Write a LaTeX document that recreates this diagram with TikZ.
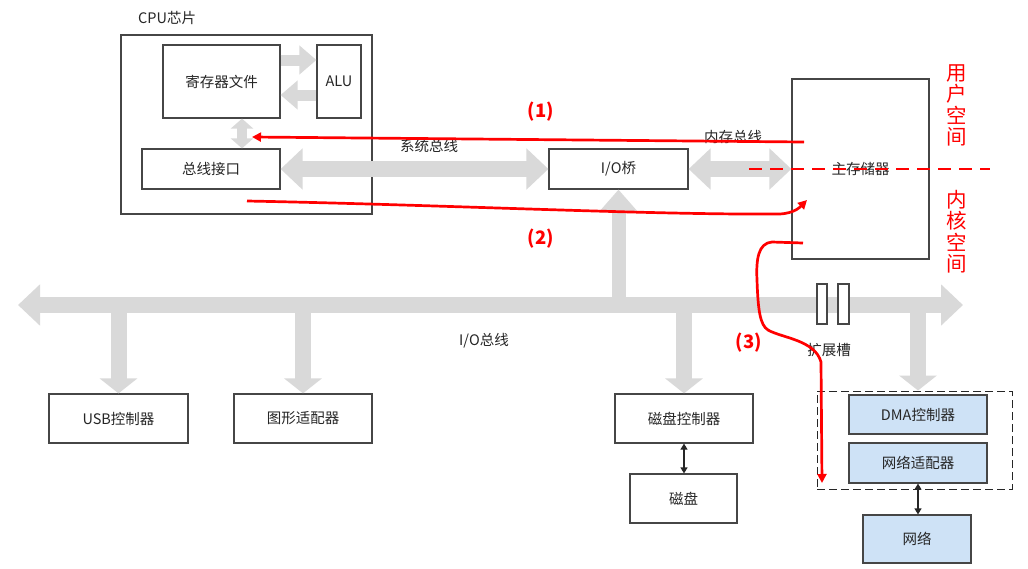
\documentclass[tikz,border=0pt]{standalone}
\usepackage{fontspec}
\setmainfont{Noto Sans CJK SC}
\newfontfamily\redbold{Noto Sans CJK SC}
\usetikzlibrary{arrows.meta}
\definecolor{busgray}{RGB}{217,217,217}
\definecolor{boxline}{RGB}{70,70,70}
\definecolor{txt}{RGB}{38,38,38}
\definecolor{lblue}{RGB}{206,226,246}
\definecolor{myred}{RGB}{255,0,0}
\tikzset{
  box/.style={draw=boxline, line width=1.2pt, fill=white, inner sep=0pt, text=txt, anchor=center},
  bluebox/.style={box, fill=lblue},
  lbl/.style={text=txt, inner sep=0pt},
  bigbus/.style={draw=busgray, line width=16pt, {Triangle[length=22pt,width=40pt]}-{Triangle[length=22pt,width=40pt]}},
  branch/.style={draw=busgray, line width=16pt, -{Triangle[length=15pt,width=37pt]}},
  upbranch/.style={draw=busgray, line width=14pt, -{Triangle[length=22pt,width=37pt]}},
  cpuarrow/.style={draw=busgray, line width=11pt, -{Triangle[length=17pt,width=28pt]}},
  cpuvert/.style={draw=busgray, line width=10pt, {Triangle[length=10pt,width=22pt]}-{Triangle[length=10pt,width=22pt]}},
  thinarrow/.style={draw=txt, line width=1.2pt, {Triangle[length=6pt,width=7pt]}-{Triangle[length=6pt,width=7pt]}},
  redline/.style={draw=myred, line width=2.7pt, -{Triangle[length=9pt,width=9pt]}},
  redlabel/.style={text=myred, font=\redbold\bfseries\fontsize{18.5}{20}\selectfont, inner sep=0pt},
  redvert/.style={text=myred, font=\fontsize{20.5}{21.5}\selectfont, align=center, inner sep=0pt},
}
\begin{document}
\begin{tikzpicture}[x=1pt, y=-1pt, font=\fontsize{14.5}{17}\selectfont]
\useasboundingbox[fill=white] (0,0) rectangle (1028,568);

% CPU chip
\node[box, minimum width=251pt, minimum height=179pt] (cpu) at (246.5,124.5) {};
\node[lbl, anchor=west] (cpulbl) at (138,18) {CPU芯片};
\node[box, minimum width=117pt, minimum height=73pt] (reg) at (221.5,81.5) {寄存器文件};
\node[box, minimum width=44pt, minimum height=73pt] (alu) at (339,81.5) {ALU};
\node[box, minimum width=138pt, minimum height=40pt] (bif) at (211,169) {总线接口};
\coordinate (vx) at (242,0);
\draw[cpuarrow] ([yshift=21.5pt]reg.east) -- ([yshift=21.5pt]alu.west);
\draw[cpuarrow] ([yshift=-13.5pt]alu.west) -- ([yshift=-13.5pt]reg.east);
\draw[cpuvert] (reg.south -| vx) -- (bif.north -| vx);

% bridge and memory
\node[box, minimum width=139pt, minimum height=40pt] (bridge) at (618.5,169) {I/O桥};
\node[box, minimum width=137pt, minimum height=180pt] (mem) at (860.5,169) {主存储器};
\draw[bigbus] (bif.east) -- (bridge.west);
\draw[bigbus] (bridge.east) -- (mem.west);
\node[lbl] (sysbus) at (429,146) {系统总线};
\node[lbl] (membus) at (733,137) {内存总线};

% I/O bus
\coordinate (busL) at (18,305);
\coordinate (busR) at (963,305);
\node[box, minimum width=139pt, minimum height=49pt] (usb) at (118.5,418.5) {USB控制器};
\node[box, minimum width=138pt, minimum height=49pt] (gfx) at (303,418.5) {图形适配器};
\node[box, minimum width=138pt, minimum height=49pt] (dctl) at (684,418.5) {磁盘控制器};
\node[box, minimum width=107pt, minimum height=49pt] (disk) at (683.5,498.5) {磁盘};
\node[box, draw=txt, dash pattern=on 8pt off 4pt, line width=1pt, minimum width=195pt, minimum height=98pt, fill=none] (grp) at (914.5,440) {};
\node[bluebox, minimum width=138pt, minimum height=39pt] (dma) at (918,414.5) {DMA控制器};
\node[bluebox, minimum width=138pt, minimum height=40pt] (nic) at (918,463) {网络适配器};
\node[bluebox, minimum width=108pt, minimum height=48pt] (net) at (917,539) {网络};

\draw[bigbus] (busL) -- (busR);
\draw[upbranch] (bridge.south |- busL) -- (bridge.south);
\draw[branch] (usb.north |- busL) -- (usb.north);
\draw[branch] (gfx.north |- busL) -- (gfx.north);
\draw[branch] (dctl.north |- busL) -- (dctl.north);
\draw[branch] (dma.north |- busL) -- (grp.north -| dma.north);
\node[lbl] (iobus) at (484,341) {I/O总线};

% expansion slots
\node[box, minimum width=10pt, minimum height=40pt] (slot1) at (822,304) {};
\node[box, minimum width=11pt, minimum height=40pt] (slot2) at (843.5,304) {};
\node[lbl] (slotlbl) at (829,350) {扩展槽};

\draw[thinarrow] (dctl.south) -- (dctl.south |- disk.north);
\draw[thinarrow] (nic.south) -- (nic.south |- net.north);

% red annotations
\draw[draw=myred, line width=2.7pt, dash pattern=on 13pt off 8pt] (749,169) coordinate (dl) -- (990,169) coordinate (dr);
\node[redvert] (user) at (957,105.5) {用\\户\\空\\间};
\node[redvert] (kern) at (957,231.5) {内\\核\\空\\间};

\coordinate (r1s) at (804,142);
\coordinate (r1e) at (252,137);
\draw[redline] (r1s) -- (r1e);
\node[redlabel] (l1) at (541,112) {(1)};

\coordinate (r2s) at (247,201);
\coordinate (r2m) at (780,214);
\coordinate (r2e) at (807,200);
\draw[redline] (r2s) .. controls (450,205) and (650,215) .. (r2m) .. controls (795,213) and (800,207) .. (r2e);
\node[redlabel] (l2) at (541,239) {(2)};

\coordinate (r3s) at (803,243);
\coordinate (r3e) at (822,483);
\draw[redline] (r3s) -- (772,242) .. controls (758,243) and (756,260) .. (757,280) .. controls (758,310) and (760,325) .. (768,330) .. controls (782,338) and (815,340) .. (821,362) -- (r3e);
\node[redlabel] (l3) at (749,343) {(3)};
\end{tikzpicture}
\end{document}
